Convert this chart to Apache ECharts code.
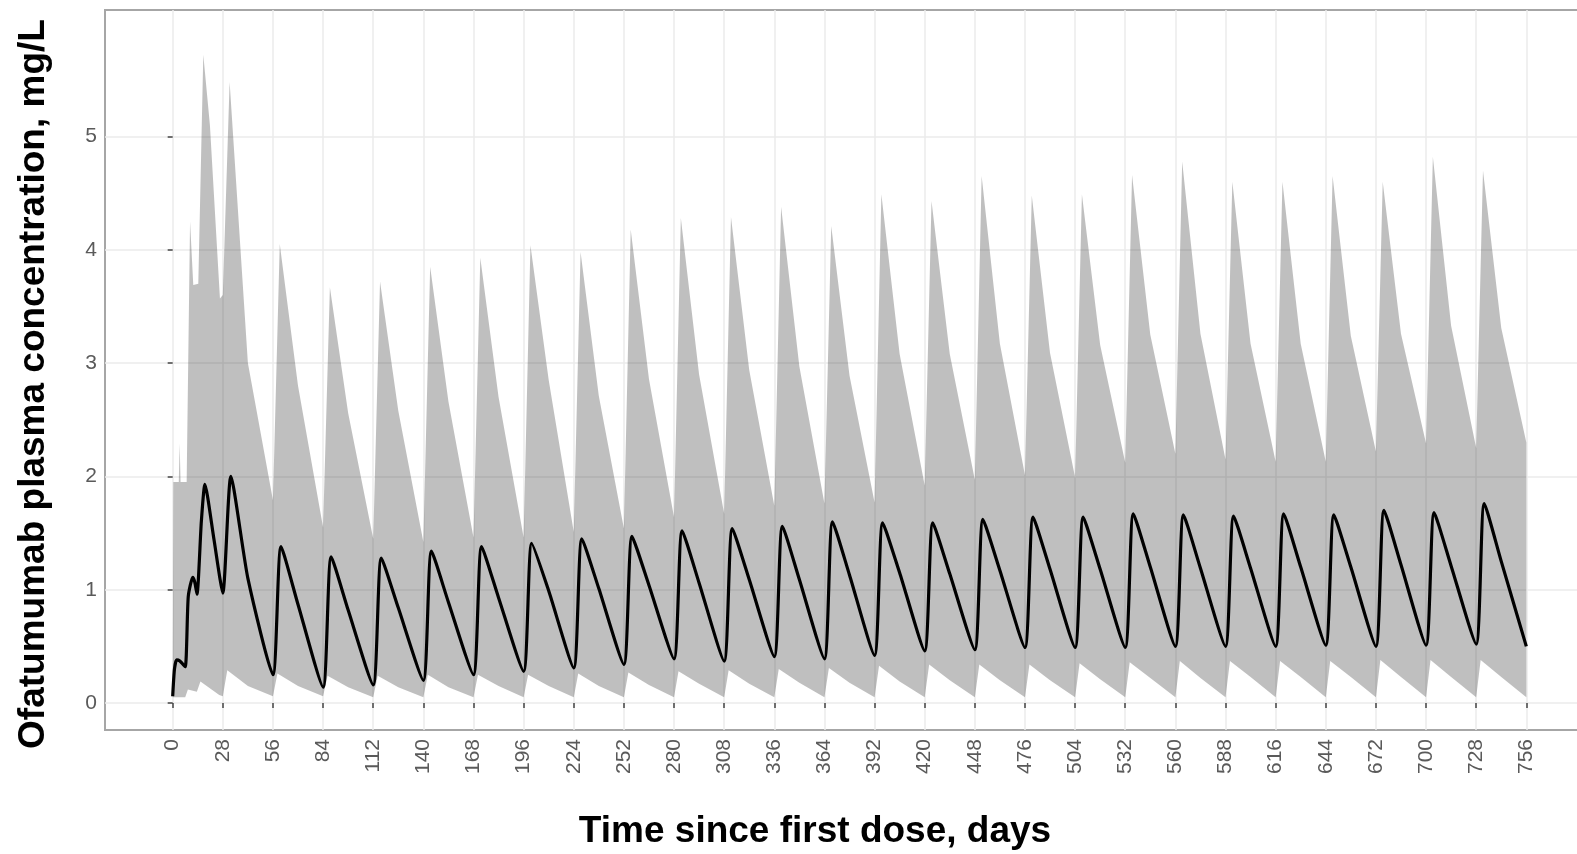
<!DOCTYPE html>
<html>
<head>
<meta charset="utf-8">
<script src="https://cdn.jsdelivr.net/npm/echarts@6/dist/echarts.min.js"></script>
<style>
  html, body { margin: 0; padding: 0; background: #fff; }
  #chart { width: 1577px; height: 854px; }
</style>
</head>
<body>
<div id="chart"></div>
<script>
// maintenance doses every 4 weeks from day 28
const doseDays = [28, 56, 84, 112, 140, 168, 196, 224, 252, 280, 308, 336, 364,
  392, 420, 448, 476, 504, 532, 560, 588, 616, 644, 672, 700, 728];
const endDay = 756;
const xTicks = [0, 28, 56, 84, 112, 140, 168, 196, 224, 252, 280, 308, 336, 364,
  392, 420, 448, 476, 504, 532, 560, 588, 616, 644, 672, 700, 728, 756];
const yTicks = [0, 1, 2, 3, 4, 5];

// loading phase, days 0-28 ([day, mg/L])
const medLoad = [[0, 0.06], [1, 0.3], [2.2, 0.38], [4, 0.37], [7, 0.32], [8.7, 0.94], [11.2, 1.11],
  [12.3, 1.07], [13.6, 0.96], [16, 1.6], [18, 1.93], [23, 1.45]];
const upLoad = [[0, 0.06], [0.4, 1.95], [3.4, 1.95], [3.9, 2.29], [4.4, 1.95], [7.8, 1.95], [9.7, 4.25],
  [11.5, 3.69], [14.3, 3.7], [17.1, 5.72], [20.8, 5.1], [26.4, 3.57]];
const lowLoad = [[0, 0.05], [7, 0.05], [8.5, 0.12], [13.5, 0.1], [15.5, 0.19], [26, 0.07]];

// median, per dosing cycle: value at dose, peak, value 14 days after dose
const medTrough = [0.97, 0.25, 0.14, 0.16, 0.2, 0.25, 0.28, 0.31, 0.34, 0.39, 0.37, 0.41, 0.39,
  0.42, 0.46, 0.47, 0.49, 0.49, 0.49, 0.5, 0.5, 0.5, 0.51, 0.5, 0.51, 0.52];
const medPeak = [2.0, 1.38, 1.29, 1.28, 1.34, 1.38, 1.41, 1.45, 1.47, 1.52, 1.54, 1.56, 1.6,
  1.59, 1.59, 1.62, 1.64, 1.64, 1.67, 1.66, 1.65, 1.67, 1.66, 1.7, 1.68, 1.76];
const medMid = [1.1, 0.87, 0.82, 0.84, 0.89, 0.93, 0.99, 1.01, 1.04, 1.06, 1.09, 1.09, 1.13,
  1.15, 1.14, 1.17, 1.18, 1.18, 1.2, 1.19, 1.19, 1.2, 1.2, 1.22, 1.21, 1.25];
const medEnd = 0.5;

// upper limit of the interval
const upTrough = [3.6, 1.79, 1.55, 1.45, 1.42, 1.46, 1.46, 1.51, 1.54, 1.64, 1.67, 1.74, 1.76,
  1.77, 1.92, 1.97, 2.01, 1.99, 2.12, 2.2, 2.15, 2.13, 2.13, 2.22, 2.29, 2.25];
const upPeak = [5.48, 4.05, 3.67, 3.72, 3.85, 3.93, 4.04, 3.98, 4.18, 4.28, 4.29, 4.38, 4.21,
  4.49, 4.43, 4.65, 4.48, 4.49, 4.66, 4.78, 4.6, 4.6, 4.65, 4.6, 4.82, 4.7];
const upMid = [3.0, 2.8, 2.56, 2.58, 2.66, 2.7, 2.85, 2.71, 2.86, 2.9, 2.94, 2.97, 2.89,
  3.08, 3.08, 3.17, 3.09, 3.16, 3.25, 3.26, 3.17, 3.17, 3.24, 3.26, 3.33, 3.31];
const upEnd = 2.3;

// lower limit of the interval
const lowTrough = [0.06, 0.06, 0.06, 0.05, 0.05, 0.05, 0.05, 0.05, 0.05, 0.05, 0.05, 0.05, 0.05,
  0.05, 0.05, 0.05, 0.05, 0.05, 0.05, 0.05, 0.05, 0.05, 0.05, 0.05, 0.05, 0.05];
const lowPeak = [0.29, 0.26, 0.24, 0.24, 0.25, 0.25, 0.25, 0.26, 0.27, 0.28, 0.29, 0.3, 0.31,
  0.33, 0.34, 0.34, 0.34, 0.35, 0.36, 0.37, 0.37, 0.37, 0.37, 0.38, 0.38, 0.38];
const lowMid = [0.15, 0.15, 0.14, 0.14, 0.14, 0.15, 0.15, 0.15, 0.16, 0.17, 0.17, 0.18, 0.18,
  0.19, 0.2, 0.2, 0.2, 0.21, 0.22, 0.22, 0.23, 0.23, 0.23, 0.23, 0.23, 0.23];
const lowEnd = 0.05;

function buildCurve(load, tr, pk, mid, pkOff, endVal) {
  const pts = load.slice();
  doseDays.forEach((d, i) => {
    pts.push([d, tr[i]], [d + pkOff, pk[i]], [d + 14, mid[i]]);
  });
  pts.push([endDay, endVal]);
  return pts;
}

const medianPts = buildCurve(medLoad, medTrough, medPeak, medMid, 4.5, medEnd);
const upperPts = buildCurve(upLoad, upTrough, upPeak, upMid, 3.8, upEnd);
const lowerPts = buildCurve(lowLoad, lowTrough, lowPeak, lowMid, 2.5, lowEnd);
const bandPts = upperPts.concat(lowerPts.slice().reverse());

const labelFont = '"Liberation Sans", Arial, sans-serif';
const chart = echarts.init(document.getElementById('chart'));
chart.setOption({
  animation: false,
  backgroundColor: '#fff',
  grid: {
    left: 105, top: 10, right: -17, bottom: 124,
    show: true, borderColor: '#a6a6a6', borderWidth: 2,
    outerBoundsMode: 'none'
  },
  xAxis: {
    type: 'value', min: -37.8, max: 793.8,
    axisLine: { show: false },
    axisTick: { show: true, customValues: xTicks, length: 5, lineStyle: { color: '#444', width: 1.5 } },
    axisLabel: { customValues: xTicks, rotate: 90, margin: 9, fontSize: 21, color: '#5a5a5a', fontFamily: labelFont },
    splitLine: { show: true, lineStyle: { color: '#ebebeb', width: 1.5 } }
  },
  yAxis: {
    type: 'value', min: -0.238, max: 6.116,
    axisLine: { show: false },
    axisTick: { show: true, customValues: yTicks, length: 5, lineStyle: { color: '#444', width: 1.5 } },
    axisLabel: { customValues: yTicks, margin: 8, fontSize: 21, color: '#5a5a5a', fontFamily: labelFont },
    splitLine: { show: true, lineStyle: { color: '#ebebeb', width: 1.5 } }
  },
  series: [
    {
      type: 'custom',
      name: 'interval',
      z: 1,
      data: [[0, 0]],
      renderItem: (params, api) => ({
        type: 'polygon',
        shape: { points: bandPts.map(p => api.coord(p)) },
        style: { fill: 'rgba(0,0,0,0.25)' }
      })
    },
    {
      type: 'line',
      name: 'median',
      z: 2,
      data: medianPts,
      showSymbol: false,
      smooth: 0.2,
      lineStyle: { color: '#000', width: 3.2 }
    }
  ],
  graphic: [
    {
      type: 'text', x: 815, y: 832,
      style: {
        text: 'Time since first dose, days',
        font: 'bold 37px "Liberation Sans", Arial, sans-serif',
        fill: '#000', align: 'center', verticalAlign: 'middle'
      }
    },
    {
      type: 'text', x: 34, y: 384, rotation: Math.PI / 2,
      style: {
        text: 'Ofatumumab plasma concentration, mg/L',
        font: 'bold 37px "Liberation Sans", Arial, sans-serif',
        fill: '#000', align: 'center', verticalAlign: 'middle'
      }
    }
  ]
});
</script>
</body>
</html>
